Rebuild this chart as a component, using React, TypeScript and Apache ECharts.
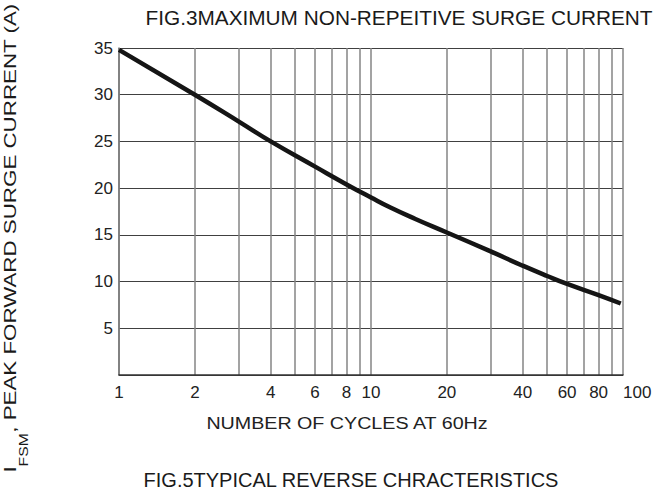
import React, { useEffect, useRef } from "react";
import * as echarts from "echarts";

const cycles = [1, 2, 3, 4, 6, 8, 10, 12, 15, 20, 30, 40, 50, 60, 80, 98];
const surgeCurrent = [34.8, 30.0, 27.1, 25.0, 22.3, 20.4, 19.0, 17.9, 16.7, 15.25, 13.2, 11.7, 10.6, 9.75, 8.55, 7.65];
const xGridValues = [1, 2, 3, 4, 5, 6, 7, 8, 9, 10, 20, 30, 40, 50, 60, 70, 80, 90, 100];
const xLabelValues = [1, 2, 4, 6, 8, 10, 20, 40, 60, 80, 100];

const titleText = "FIG.3MAXIMUM NON-REPEITIVE SURGE CURRENT";
const xNameText = "NUMBER OF CYCLES AT 60Hz";
const yNameText = "{a|I}{b|FSM}{a|, PEAK FORWARD SURGE CURRENT (A)}";
const bottomText = "FIG.5TYPICAL REVERSE CHRACTERISTICS";

const FONT = "'Liberation Sans', Arial, sans-serif";

export default function App() {
  const ref = useRef<HTMLDivElement>(null);
  useEffect(() => {
    if (!ref.current) return;
    const chart = echarts.init(ref.current, undefined, { renderer: "svg" });
    const data = cycles.map((c, i) => [c, surgeCurrent[i]]);
    chart.setOption({
      animation: false,
      backgroundColor: "#ffffff",
      grid: { left: 119, right: 34, top: 48, bottom: 115, containLabel: false },
      xAxis: {
        type: "log",
        logBase: 10,
        min: 1,
        max: 100,
        axisLine: { show: true, lineStyle: { color: "#333", width: 1.5 } },
        axisTick: { show: false, customValues: xGridValues },
        axisLabel: {
          customValues: xLabelValues,
          color: "#222",
          fontFamily: FONT,
          fontSize: 17,
          margin: 9,
          alignMaxLabel: "left",
          formatter: (v: number) => String(Math.round(v)),
        },
        splitLine: { show: true, lineStyle: { color: "#858585", width: 1.5 } },
        minorTick: { show: false },
        minorSplitLine: { show: false },
      },
      yAxis: {
        type: "value",
        min: 0,
        max: 35,
        interval: 5,
        axisLine: { show: true, lineStyle: { color: "#777", width: 1.5 } },
        axisTick: { show: false },
        axisLabel: {
          color: "#222",
          fontFamily: FONT,
          fontSize: 17,
          margin: 6,
          showMinLabel: false,
          formatter: (v: number) => (v === 0 ? "" : String(v)),
        },
        splitLine: { show: true, lineStyle: { color: "#404040", width: 1.2 } },
      },
      series: [
        {
          type: "line",
          data,
          smooth: 0.5,
          showSymbol: false,
          lineStyle: { color: "#151515", width: 4.5 },
          z: 5,
        },
      ],
      graphic: [
        {
          type: "text",
          x: 399,
          y: 18,
          scaleX: 1.04,
          style: {
            text: titleText,
            font: `20px ${FONT}`,
            fill: "#1a1a1a",
            textAlign: "center",
            textVerticalAlign: "middle",
          },
        },
        {
          type: "text",
          x: 347,
          y: 424,
          scaleX: 1.23,
          style: {
            text: xNameText,
            font: `16px ${FONT}`,
            fill: "#222",
            textAlign: "center",
            textVerticalAlign: "middle",
          },
        },
        {
          type: "text",
          x: 351,
          y: 480,
          style: {
            text: bottomText,
            font: `20px ${FONT}`,
            fill: "#1a1a1a",
            textAlign: "center",
            textVerticalAlign: "middle",
          },
        },
        {
          type: "text",
          x: 16,
          y: 238,
          rotation: Math.PI / 2,
          scaleX: 1.315,
          style: {
            text: yNameText,
            textAlign: "center",
            textVerticalAlign: "middle",
            fill: "#1a1a1a",
            rich: {
              a: { fontFamily: FONT, fontSize: 17, lineHeight: 28, verticalAlign: "top", fill: "#1a1a1a" },
              b: { fontFamily: FONT, fontSize: 12, lineHeight: 12, verticalAlign: "bottom", fill: "#1a1a1a" },
            },
          },
        },
      ],
    });
    return () => chart.dispose();
  }, []);
  return (
    <div
      ref={ref}
      style={{ position: "fixed", left: 0, top: 0, width: 657, height: 490 }}
    />
  );
}
